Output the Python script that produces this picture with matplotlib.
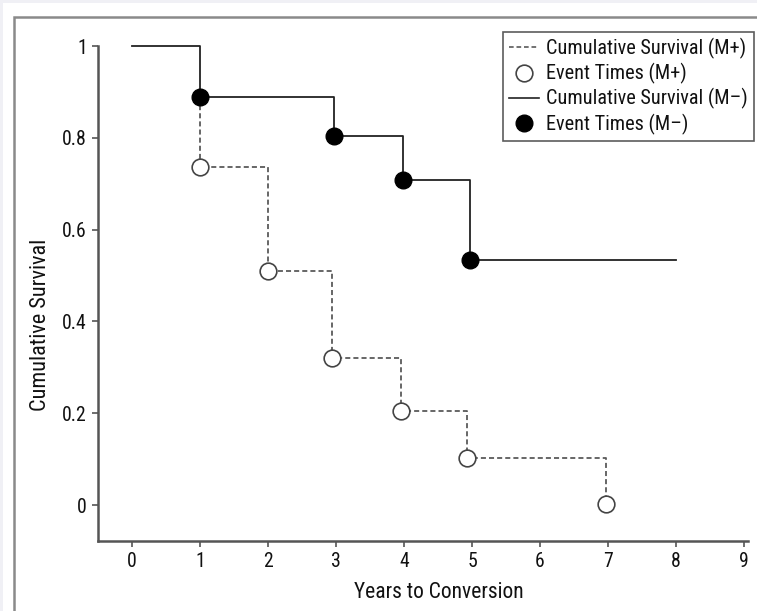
import matplotlib
matplotlib.use("Agg")
import matplotlib.pyplot as plt
from matplotlib.patches import Rectangle
from matplotlib.lines import Line2D
from matplotlib import font_manager

names = {f.name for f in font_manager.fontManager.ttflist}
main_font = 'Liberation Sans'
for cand in ['Liberation Sans Narrow', 'Roboto Condensed', 'Open Sans Condensed',
             'Noto Sans Condensed', 'Arial Narrow']:
    if cand in names:
        main_font = cand
        break
plt.rcParams['font.family'] = [main_font, 'DejaVu Sans']

# M- (solid): step times and survival
times_neg = [0, 1, 2.97, 3.98, 4.97, 8.0]
surv_neg = [1.0, 0.889, 0.803, 0.709, 0.533, 0.533]
event_x_neg = [1, 2.97, 3.98, 4.97]
event_y_neg = [0.889, 0.803, 0.709, 0.533]

# M+ (dashed)
times_pos = [1, 1, 2.0, 2.94, 3.95, 4.93, 6.97]
surv_pos = [0.889, 0.736, 0.510, 0.320, 0.205, 0.102, 0.0]
event_x_pos = [1, 2.0, 2.94, 3.95, 4.93, 6.97]
event_y_pos = [0.736, 0.510, 0.320, 0.205, 0.102, 0.003]

xticks = [0, 1, 2, 3, 4, 5, 6, 7, 8, 9]
yticks = [0, 0.2, 0.4, 0.6, 0.8, 1.0]
yticklabels = ['0', '0.2', '0.4', '0.6', '0.8', '1']

W, H = 757, 611
fig = plt.figure(figsize=(W/100, H/100), dpi=100)
fig.patch.set_facecolor('white')
# outer light strips and panel frame
fig.patches.append(Rectangle((0, 1-3/H), 1, 3/H, transform=fig.transFigure,
                             facecolor='#f0f0f5', edgecolor='none', zorder=-5))
fig.patches.append(Rectangle((0, 0), 3/W, 1, transform=fig.transFigure,
                             facecolor='#f0f0f5', edgecolor='none', zorder=-5))
fig.patches.append(Rectangle((14/W, -0.1), 1.2, 1-17/H+0.1, transform=fig.transFigure,
                             facecolor='white', edgecolor='#8a8a8a', linewidth=1.8, zorder=-4))

ax = fig.add_axes([98/W, (H-541)/H, (748-98)/W, (541-46)/H])
ax.set_facecolor('none')

dash = (0, (2.8, 1.7))
# M+ dashed step curve
ax.step(times_pos, surv_pos, where='post', color='#5a5a5a', linestyle=dash,
        linewidth=1.3, clip_on=False, zorder=2)
ax.plot(event_x_pos, event_y_pos, 'o', markersize=12, markerfacecolor='white',
        markeredgecolor='#444444', markeredgewidth=1.2, clip_on=False, zorder=3)

# M- solid step curve
ax.step(times_neg, surv_neg, where='post', color='#222222', linewidth=1.3,
        clip_on=False, zorder=2)
ax.plot(event_x_neg, event_y_neg, 'o', markersize=12, markerfacecolor='black',
        markeredgecolor='black', clip_on=False, zorder=4)

ax.set_xlim(-0.5, 9.06)
ax.set_ylim(-0.0784, 1.0)
ax.set_xticks(xticks)
ax.set_yticks(yticks)
ax.set_yticklabels(yticklabels)
for s in ['top', 'right']:
    ax.spines[s].set_visible(False)
for s in ['left', 'bottom']:
    ax.spines[s].set_color('#555555')
    ax.spines[s].set_linewidth(1.8)
ax.tick_params(axis='both', direction='out', length=4, width=1.2, color='#555555',
               labelsize=14.2, labelcolor='#111111', pad=4)
ax.set_xlabel('Years to Conversion', fontsize=15.5, color='#111111')
ax.set_ylabel('Cumulative Survival', fontsize=16, color='#111111')
ax.xaxis.set_label_coords((439-98)/650, -(582-541)/495)
ax.yaxis.set_label_coords(-(98-51)/650, (541-325)/495)

handles = [
    Line2D([], [], color='#5a5a5a', linestyle=dash, linewidth=1.2),
    Line2D([], [], marker='o', linestyle='none', markersize=12, markerfacecolor='white',
           markeredgecolor='#444444', markeredgewidth=1.2),
    Line2D([], [], color='#222222', linewidth=1.2),
    Line2D([], [], marker='o', linestyle='none', markersize=12, markerfacecolor='black',
           markeredgecolor='black'),
]
labels = ['Cumulative Survival (M+)', 'Event Times (M+)',
          'Cumulative Survival (M–)', 'Event Times (M–)']
leg = ax.legend(handles, labels, loc='upper right', bbox_to_anchor=(754/W, 1-32/H),
                bbox_transform=fig.transFigure, fontsize=14.6, frameon=True, fancybox=False,
                edgecolor='#333333', handlelength=1.5, handletextpad=0.35,
                labelspacing=0.2, borderpad=0.3, borderaxespad=0)
leg.get_frame().set_linewidth(1.2)
for t in leg.get_texts():
    t.set_color('#111111')

fig.savefig('out.png', dpi=100)
